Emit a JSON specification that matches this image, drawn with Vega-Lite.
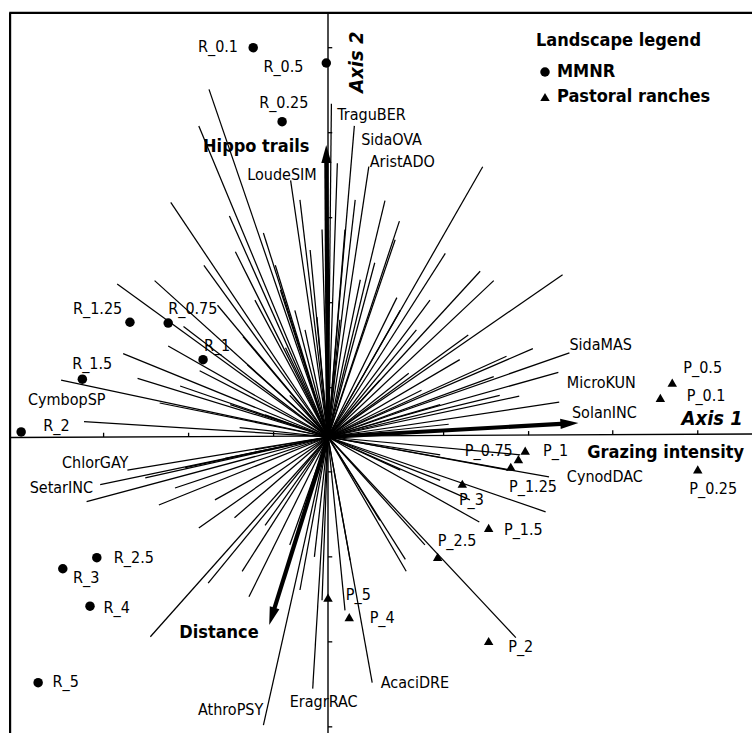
{
  "$schema": "https://vega.github.io/schema/vega-lite/v6.json",
  "width": 752,
  "height": 733,
  "autosize": {"type": "none"},
  "padding": 0,
  "background": "white",
  "config": {"view": {"stroke": null}},
  "datasets": {
    "frame": [
      {"x1": -3.74, "y1": -3.6, "x2": -3.74, "y2": 4.99},
      {"x1": -3.75, "y1": 4.99, "x2": 5.1, "y2": 4.99}
    ],
    "axes": [
      {"x1": -3.74, "y1": -0.006, "x2": 5.0, "y2": 0.035},
      {"x1": 0, "y1": 4.99, "x2": 0, "y2": -3.6}
    ],
    "ticks": [
      {"x1": -2.64, "y1": 0.0, "x2": -2.64, "y2": 0.05},
      {"x1": -1.64, "y1": 0.0, "x2": -1.64, "y2": 0.05},
      {"x1": -0.64, "y1": 0.01, "x2": -0.64, "y2": 0.06},
      {"x1": 0.36, "y1": 0.01, "x2": 0.36, "y2": 0.06},
      {"x1": 1.36, "y1": 0.02, "x2": 1.36, "y2": 0.07},
      {"x1": 2.36, "y1": 0.02, "x2": 2.36, "y2": 0.07},
      {"x1": 3.35, "y1": 0.03, "x2": 3.35, "y2": 0.08},
      {"x1": 4.35, "y1": 0.03, "x2": 4.35, "y2": 0.08},
      {"x1": 0, "y1": 4.58, "x2": 0.05, "y2": 4.58},
      {"x1": 0, "y1": 3.58, "x2": 0.05, "y2": 3.58},
      {"x1": 0, "y1": 2.58, "x2": 0.05, "y2": 2.58},
      {"x1": 0, "y1": 1.58, "x2": 0.05, "y2": 1.58},
      {"x1": 0, "y1": 0.58, "x2": 0.05, "y2": 0.58},
      {"x1": 0, "y1": -0.41, "x2": 0.05, "y2": -0.41},
      {"x1": 0, "y1": -1.41, "x2": 0.05, "y2": -1.41},
      {"x1": 0, "y1": -2.41, "x2": 0.05, "y2": -2.41},
      {"x1": 0, "y1": -3.41, "x2": 0.05, "y2": -3.41}
    ],
    "species": [
      {"a1": -1.40, "a2": 4.09},
      {"a1": -1.52, "a2": 3.66},
      {"a1": -1.85, "a2": 2.76},
      {"a1": -1.16, "a2": 2.60},
      {"a1": -0.76, "a2": 2.40},
      {"sp": "LoudeSIM", "a1": -0.44, "a2": 3.02, "lx": -0.95, "ly": 3.08},
      {"a1": -1.09, "a2": 2.18},
      {"a1": -1.46, "a2": 2.02},
      {"a1": -2.04, "a2": 1.84},
      {"a1": -2.48, "a2": 1.80},
      {"a1": -1.88, "a2": 1.07},
      {"a1": -2.41, "a2": 0.98},
      {"sp": "CymbopSP", "a1": -3.14, "a2": 0.67, "lx": -3.53, "ly": 0.44},
      {"a1": -2.24, "a2": 0.69},
      {"a1": -2.87, "a2": 0.18},
      {"a1": -1.74, "a2": 0.60},
      {"a1": -1.51, "a2": 0.78},
      {"a1": -1.00, "a2": 1.18},
      {"a1": -0.13, "a2": 1.41},
      {"a1": -0.33, "a2": 2.79},
      {"a1": -0.21, "a2": 2.20},
      {"a1": -0.56, "a2": 1.73},
      {"a1": -0.86, "a2": 1.61},
      {"a1": -1.15, "a2": 0.38},
      {"a1": -0.74, "a2": 0.26},
      {"a1": -0.07, "a2": 2.44},
      {"a1": -0.62, "a2": 2.02},
      {"a1": -0.39, "a2": 1.49},
      {"a1": -1.98, "a2": 0.40},
      {"a1": -0.45, "a2": 0.49},
      {"a1": -1.04, "a2": 0.11},
      {"a1": -0.27, "a2": 1.26},
      {"a1": -1.30, "a2": 1.55},
      {"a1": -0.95, "a2": 0.85},
      {"a1": -1.70, "a2": 1.30},
      {"a1": -0.50, "a2": 1.05},
      {"sp": "TraguBER", "a1": 0.04, "a2": 3.92, "lx": 0.11, "ly": 3.79},
      {"a1": 0.11, "a2": 3.22},
      {"sp": "SidaOVA", "a1": 0.31, "a2": 3.66, "lx": 0.39, "ly": 3.49},
      {"sp": "AristADO", "a1": 0.48, "a2": 3.18, "lx": 0.49, "ly": 3.24},
      {"a1": 0.67, "a2": 2.78},
      {"a1": 0.84, "a2": 2.54},
      {"a1": 1.82, "a2": 3.18},
      {"a1": 1.38, "a2": 2.16},
      {"a1": 1.79, "a2": 1.95},
      {"a1": 1.95, "a2": 1.84},
      {"a1": 2.76, "a2": 1.91},
      {"a1": 1.04, "a2": 1.26},
      {"a1": 2.41, "a2": 1.04},
      {"sp": "SidaMAS", "a1": 2.84, "a2": 0.99, "lx": 2.84, "ly": 1.08},
      {"sp": "MicroKUN", "a1": 2.71, "a2": 0.76, "lx": 2.81, "ly": 0.64},
      {"a1": 0.95, "a2": 0.75},
      {"a1": 1.95, "a2": 0.71},
      {"a1": 2.25, "a2": 0.48},
      {"sp": "SolanINC", "a1": 2.72, "a2": 0.41, "lx": 2.87, "ly": 0.28},
      {"a1": 1.42, "a2": 0.15},
      {"a1": 0.20, "a2": 2.44},
      {"a1": 0.38, "a2": 1.85},
      {"a1": 1.20, "a2": 1.61},
      {"a1": 0.85, "a2": 1.49},
      {"a1": 1.55, "a2": 0.91},
      {"a1": 0.61, "a2": 0.67},
      {"a1": 2.02, "a2": 0.49},
      {"a1": 1.32, "a2": 0.38},
      {"a1": 0.14, "a2": 1.38},
      {"a1": 0.81, "a2": 1.64},
      {"a1": 0.79, "a2": 2.32},
      {"a1": 0.32, "a2": 2.79},
      {"a1": 1.65, "a2": 1.20},
      {"a1": 2.10, "a2": 0.95},
      {"a1": 1.10, "a2": 0.55},
      {"a1": 0.55, "a2": 2.05},
      {"sp": "ChlorGAY", "a1": -2.36, "a2": -0.39, "lx": -3.13, "ly": -0.31},
      {"sp": "SetarINC", "a1": -2.68, "a2": -0.56, "lx": -3.51, "ly": -0.60},
      {"a1": -2.84, "a2": -0.76},
      {"a1": -1.99, "a2": -0.80},
      {"a1": -1.52, "a2": -1.07},
      {"a1": -1.41, "a2": -1.72},
      {"a1": -1.01, "a2": -1.58},
      {"a1": -0.93, "a2": -1.88},
      {"a1": -2.09, "a2": -2.35},
      {"sp": "AthroPSY", "a1": -0.76, "a2": -3.39, "lx": -1.53, "ly": -3.21},
      {"sp": "EragrRAC", "a1": -0.18, "a2": -2.96, "lx": -0.45, "ly": -3.12},
      {"a1": -0.16, "a2": -1.41},
      {"a1": -2.15, "a2": -0.48},
      {"a1": -1.68, "a2": -0.36},
      {"a1": -1.21, "a2": -0.25},
      {"a1": -0.86, "a2": -0.15},
      {"a1": -1.33, "a2": -0.74},
      {"a1": -0.74, "a2": -1.04},
      {"a1": -0.45, "a2": -1.27},
      {"a1": -0.33, "a2": -1.80},
      {"a1": -0.07, "a2": -1.92},
      {"a1": -1.80, "a2": -0.60},
      {"a1": -1.10, "a2": -0.95},
      {"sp": "CynodDAC", "a1": 2.60, "a2": -0.47, "lx": 2.81, "ly": -0.47},
      {"a1": 2.12, "a2": -0.39},
      {"a1": 2.56, "a2": -0.88},
      {"a1": 1.78, "a2": -1.00},
      {"a1": 2.21, "a2": -2.36},
      {"a1": 0.91, "a2": -1.44},
      {"a1": 0.92, "a2": -1.58},
      {"a1": 1.14, "a2": -1.27},
      {"sp": "AcaciDRE", "a1": 0.52, "a2": -2.89, "lx": 0.62, "ly": -2.89},
      {"a1": 1.32, "a2": -0.51},
      {"a1": 1.67, "a2": -0.74},
      {"a1": 0.85, "a2": -0.39},
      {"a1": 0.61, "a2": -0.98},
      {"a1": 0.26, "a2": -1.45},
      {"a1": 0.20, "a2": -2.04},
      {"a1": 2.26, "a2": -0.21},
      {"a1": 1.32, "a2": -0.21}
    ],
    "env": [
      {"var": "Hippo trails", "a1": -0.02, "a2": 3.33, "lx": -1.47, "ly": 3.41},
      {"var": "Grazing intensity", "a1": 2.84, "a2": 0.16, "lx": 3.05, "ly": -0.19},
      {"var": "Distance", "a1": -0.66, "a2": -2.11, "lx": -1.75, "ly": -2.31}
    ],
    "samples": [
      {"site": "R_0.1", "landscape": "MMNR", "a1": -0.88, "a2": 4.58, "lx": -1.53, "ly": 4.59},
      {"site": "R_0.5", "landscape": "MMNR", "a1": -0.02, "a2": 4.40, "lx": -0.76, "ly": 4.35},
      {"site": "R_0.25", "landscape": "MMNR", "a1": -0.54, "a2": 3.71, "lx": -0.81, "ly": 3.93},
      {"site": "R_1.25", "landscape": "MMNR", "a1": -2.33, "a2": 1.35, "lx": -3.00, "ly": 1.51},
      {"site": "R_0.75", "landscape": "MMNR", "a1": -1.88, "a2": 1.34, "lx": -1.88, "ly": 1.51},
      {"site": "R_1", "landscape": "MMNR", "a1": -1.47, "a2": 0.91, "lx": -1.46, "ly": 1.07},
      {"site": "R_1.5", "landscape": "MMNR", "a1": -2.89, "a2": 0.68, "lx": -3.01, "ly": 0.86},
      {"site": "R_2", "landscape": "MMNR", "a1": -3.61, "a2": 0.06, "lx": -3.35, "ly": 0.13},
      {"site": "R_2.5", "landscape": "MMNR", "a1": -2.72, "a2": -1.42, "lx": -2.52, "ly": -1.42},
      {"site": "R_3", "landscape": "MMNR", "a1": -3.12, "a2": -1.55, "lx": -3.00, "ly": -1.66},
      {"site": "R_4", "landscape": "MMNR", "a1": -2.80, "a2": -1.99, "lx": -2.64, "ly": -2.01},
      {"site": "R_5", "landscape": "MMNR", "a1": -3.41, "a2": -2.89, "lx": -3.24, "ly": -2.88},
      {"site": "P_0.5", "landscape": "Pastoral ranches", "a1": 4.05, "a2": 0.64, "lx": 4.18, "ly": 0.81},
      {"site": "P_0.1", "landscape": "Pastoral ranches", "a1": 3.91, "a2": 0.46, "lx": 4.22, "ly": 0.48},
      {"site": "P_1", "landscape": "Pastoral ranches", "a1": 2.32, "a2": -0.16, "lx": 2.53, "ly": -0.16},
      {"site": "P_0.75", "landscape": "Pastoral ranches", "a1": 2.24, "a2": -0.26, "lx": 1.61, "ly": -0.16},
      {"site": "P_1.25", "landscape": "Pastoral ranches", "a1": 2.15, "a2": -0.35, "lx": 2.13, "ly": -0.59},
      {"site": "P_0.25", "landscape": "Pastoral ranches", "a1": 4.35, "a2": -0.38, "lx": 4.25, "ly": -0.61},
      {"site": "P_3", "landscape": "Pastoral ranches", "a1": 1.58, "a2": -0.55, "lx": 1.54, "ly": -0.74},
      {"site": "P_1.5", "landscape": "Pastoral ranches", "a1": 1.89, "a2": -1.07, "lx": 2.07, "ly": -1.09},
      {"site": "P_2.5", "landscape": "Pastoral ranches", "a1": 1.29, "a2": -1.41, "lx": 1.29, "ly": -1.22},
      {"site": "P_2", "landscape": "Pastoral ranches", "a1": 1.89, "a2": -2.40, "lx": 2.12, "ly": -2.47},
      {"site": "P_5", "landscape": "Pastoral ranches", "a1": 0.00, "a2": -1.89, "lx": 0.21, "ly": -1.86},
      {"site": "P_4", "landscape": "Pastoral ranches", "a1": 0.25, "a2": -2.12, "lx": 0.49, "ly": -2.13}
    ],
    "axis1title": [{"t": "Axis 1", "x": 4.16, "y": 0.21}],
    "axis2title": [{"t": "Axis 2", "x": 0.34, "y": 4.41}]
  },
  "layer": [
    {
      "data": {"name": "frame"},
      "mark": {"type": "rule", "strokeWidth": 2.2, "color": "black"},
      "encoding": {
        "x": {"field": "x1", "type": "quantitative", "axis": null, "scale": {"domain": [-3.8588, 4.9882], "nice": false, "zero": false}},
        "y": {"field": "y1", "type": "quantitative", "axis": null, "scale": {"domain": [-3.4824, 5.1412], "nice": false, "zero": false}},
        "x2": {"field": "x2"},
        "y2": {"field": "y2"}
      }
    },
    {
      "data": {"name": "axes"},
      "mark": {"type": "rule", "strokeWidth": 1.4, "color": "black"},
      "encoding": {
        "x": {"field": "x1", "type": "quantitative", "axis": null, "scale": {"domain": [-3.8588, 4.9882], "nice": false, "zero": false}},
        "y": {"field": "y1", "type": "quantitative", "axis": null, "scale": {"domain": [-3.4824, 5.1412], "nice": false, "zero": false}},
        "x2": {"field": "x2"},
        "y2": {"field": "y2"}
      }
    },
    {
      "data": {"name": "ticks"},
      "mark": {"type": "rule", "strokeWidth": 1.3, "color": "black"},
      "encoding": {
        "x": {"field": "x1", "type": "quantitative", "axis": null, "scale": {"domain": [-3.8588, 4.9882], "nice": false, "zero": false}},
        "y": {"field": "y1", "type": "quantitative", "axis": null, "scale": {"domain": [-3.4824, 5.1412], "nice": false, "zero": false}},
        "x2": {"field": "x2"},
        "y2": {"field": "y2"}
      }
    },
    {
      "data": {"name": "species"},
      "mark": {"type": "rule", "strokeWidth": 1.25, "color": "black"},
      "encoding": {
        "x": {"field": "a1", "type": "quantitative", "axis": null, "scale": {"domain": [-3.8588, 4.9882], "nice": false, "zero": false}},
        "y": {"field": "a2", "type": "quantitative", "axis": null, "scale": {"domain": [-3.4824, 5.1412], "nice": false, "zero": false}},
        "x2": {"datum": 0},
        "y2": {"datum": 0}
      }
    },
    {
      "data": {"name": "env"},
      "mark": {"type": "rule", "strokeWidth": 4.2, "color": "black"},
      "encoding": {
        "x": {"field": "a1", "type": "quantitative", "axis": null, "scale": {"domain": [-3.8588, 4.9882], "nice": false, "zero": false}},
        "y": {"field": "a2", "type": "quantitative", "axis": null, "scale": {"domain": [-3.4824, 5.1412], "nice": false, "zero": false}},
        "x2": {"datum": 0},
        "y2": {"datum": 0}
      }
    },
    {
      "data": {"name": "env"},
      "transform": [{"filter": "datum.var === 'Hippo trails'"}],
      "mark": {"type": "point", "filled": true, "shape": "M0,-0.5L-0.28,0.5L0.28,0.5Z", "size": 1296, "color": "black", "opacity": 1, "angle": 359.6},
      "encoding": {
        "x": {"field": "a1", "type": "quantitative", "axis": null, "scale": {"domain": [-3.8588, 4.9882], "nice": false, "zero": false}},
        "y": {"field": "a2", "type": "quantitative", "axis": null, "scale": {"domain": [-3.4824, 5.1412], "nice": false, "zero": false}}
      }
    },
    {
      "data": {"name": "env"},
      "transform": [{"filter": "datum.var === 'Grazing intensity'"}],
      "mark": {"type": "point", "filled": true, "shape": "M0,-0.5L-0.28,0.5L0.28,0.5Z", "size": 1296, "color": "black", "opacity": 1, "angle": 86.8},
      "encoding": {
        "x": {"field": "a1", "type": "quantitative", "axis": null, "scale": {"domain": [-3.8588, 4.9882], "nice": false, "zero": false}},
        "y": {"field": "a2", "type": "quantitative", "axis": null, "scale": {"domain": [-3.4824, 5.1412], "nice": false, "zero": false}}
      }
    },
    {
      "data": {"name": "env"},
      "transform": [{"filter": "datum.var === 'Distance'"}],
      "mark": {"type": "point", "filled": true, "shape": "M0,-0.5L-0.28,0.5L0.28,0.5Z", "size": 1296, "color": "black", "opacity": 1, "angle": 197.4},
      "encoding": {
        "x": {"field": "a1", "type": "quantitative", "axis": null, "scale": {"domain": [-3.8588, 4.9882], "nice": false, "zero": false}},
        "y": {"field": "a2", "type": "quantitative", "axis": null, "scale": {"domain": [-3.4824, 5.1412], "nice": false, "zero": false}}
      }
    },
    {
      "data": {"name": "samples"},
      "mark": {"type": "point", "filled": true, "color": "black", "opacity": 1, "size": 90},
      "encoding": {
        "x": {"field": "a1", "type": "quantitative", "axis": null, "scale": {"domain": [-3.8588, 4.9882], "nice": false, "zero": false}},
        "y": {"field": "a2", "type": "quantitative", "axis": null, "scale": {"domain": [-3.4824, 5.1412], "nice": false, "zero": false}},
        "shape": {
          "field": "landscape", "type": "nominal",
          "scale": {"domain": ["MMNR", "Pastoral ranches"], "range": ["circle", "triangle-up"]},
          "legend": {
            "title": "Landscape legend",
            "orient": "none", "legendX": 536, "legendY": 32,
            "padding": 0,
            "titleFont": "DejaVu Sans Condensed, DejaVu Sans", "titleFontSize": 18, "titleFontWeight": "bold", "titleColor": "black", "titlePadding": 13,
            "labelFont": "DejaVu Sans Condensed, DejaVu Sans", "labelFontSize": 18, "labelFontWeight": "bold", "labelColor": "black", "labelOffset": 3,
            "symbolFillColor": "black", "symbolStrokeColor": "black", "symbolSize": 90, "symbolStrokeWidth": 0, "symbolOpacity": 1,
            "rowPadding": 7
          }
        }
      }
    },
    {
      "data": {"name": "samples"},
      "mark": {"type": "text", "align": "left", "baseline": "middle", "font": "DejaVu Sans Condensed, DejaVu Sans", "fontSize": 16, "color": "black"},
      "encoding": {
        "x": {"field": "lx", "type": "quantitative", "axis": null, "scale": {"domain": [-3.8588, 4.9882], "nice": false, "zero": false}},
        "y": {"field": "ly", "type": "quantitative", "axis": null, "scale": {"domain": [-3.4824, 5.1412], "nice": false, "zero": false}},
        "text": {"field": "site"}
      }
    },
    {
      "data": {"name": "species"},
      "transform": [{"filter": "isValid(datum.sp)"}],
      "mark": {"type": "text", "align": "left", "baseline": "middle", "font": "DejaVu Sans Condensed, DejaVu Sans", "fontSize": 16, "color": "black"},
      "encoding": {
        "x": {"field": "lx", "type": "quantitative", "axis": null, "scale": {"domain": [-3.8588, 4.9882], "nice": false, "zero": false}},
        "y": {"field": "ly", "type": "quantitative", "axis": null, "scale": {"domain": [-3.4824, 5.1412], "nice": false, "zero": false}},
        "text": {"field": "sp"}
      }
    },
    {
      "data": {"name": "env"},
      "mark": {"type": "text", "align": "left", "baseline": "middle", "font": "DejaVu Sans Condensed, DejaVu Sans", "fontSize": 18, "fontWeight": "bold", "color": "black"},
      "encoding": {
        "x": {"field": "lx", "type": "quantitative", "axis": null, "scale": {"domain": [-3.8588, 4.9882], "nice": false, "zero": false}},
        "y": {"field": "ly", "type": "quantitative", "axis": null, "scale": {"domain": [-3.4824, 5.1412], "nice": false, "zero": false}},
        "text": {"field": "var"}
      }
    },
    {
      "data": {"name": "axis1title"},
      "mark": {"type": "text", "align": "left", "baseline": "middle", "font": "DejaVu Sans Condensed, DejaVu Sans", "fontSize": 20, "fontWeight": "bold", "fontStyle": "italic", "color": "black"},
      "encoding": {
        "x": {"field": "x", "type": "quantitative", "axis": null, "scale": {"domain": [-3.8588, 4.9882], "nice": false, "zero": false}},
        "y": {"field": "y", "type": "quantitative", "axis": null, "scale": {"domain": [-3.4824, 5.1412], "nice": false, "zero": false}},
        "text": {"field": "t"}
      }
    },
    {
      "data": {"name": "axis2title"},
      "mark": {"type": "text", "align": "center", "baseline": "middle", "angle": 270, "font": "DejaVu Sans Condensed, DejaVu Sans", "fontSize": 20, "fontWeight": "bold", "fontStyle": "italic", "color": "black"},
      "encoding": {
        "x": {"field": "x", "type": "quantitative", "axis": null, "scale": {"domain": [-3.8588, 4.9882], "nice": false, "zero": false}},
        "y": {"field": "y", "type": "quantitative", "axis": null, "scale": {"domain": [-3.4824, 5.1412], "nice": false, "zero": false}},
        "text": {"field": "t"}
      }
    }
  ]
}
